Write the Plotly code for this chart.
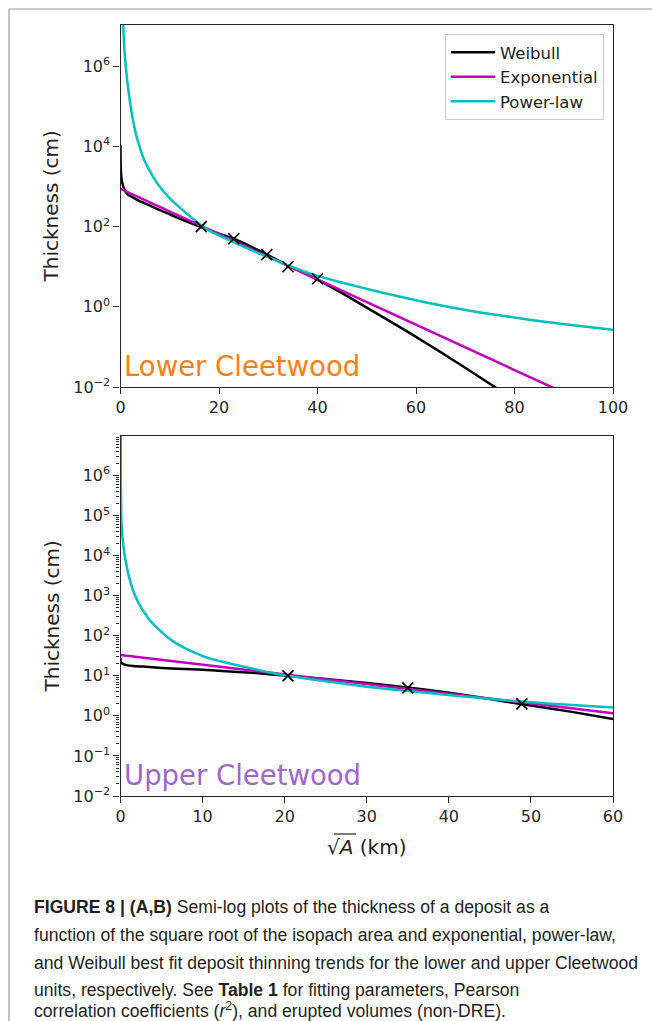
import plotly.graph_objects as go

W, H = 652, 1021

def px(x):
    return x / W

def py(y):
    return 1 - y / H

# ---------------- data ----------------
# (A) Lower Cleetwood
lower_obs_x = [16.4, 23.0, 29.7, 34.0, 40.0]
lower_obs_t = [100, 50, 20, 10, 5]

lower_weib_x = [0, 0.02, 0.1, 0.3, 0.8, 1.5, 2.5, 4, 5.9, 8, 10, 12, 14, 16.4, 19, 22.7, 26, 29.6,
                32, 34, 37, 40, 45, 50, 55, 60, 65, 70, 76, 78]
lower_weib_t = [10700, 5000, 2240, 1320, 832, 631, 537, 427, 339, 257, 204, 158, 126, 98, 74.1, 51.3,
                33.9, 20.4, 14.5, 10.7, 7.24, 4.79, 2.19, 0.955, 0.417, 0.178, 0.0741, 0.0302, 0.0100, 0.00692]

lower_exp_x = [0, 20, 40, 60, 80, 90]
lower_exp_t = [871, 64.6, 4.79, 0.355, 0.0263, 0.00724]

lower_pow_x = [0.45, 0.6, 0.8, 1.1, 1.5, 2.0, 2.5, 3.2, 3.85, 4.8, 5.9, 7.2, 8.6, 10.2, 12, 14, 16,
               18.5, 22.7, 27, 30, 34.3, 39, 44.5, 52.6, 62.8, 73, 83, 91, 100]
lower_pow_t = [2.0e7, 7.94e6, 2.51e6, 8.91e5, 3.16e5, 1.12e5, 4.79e4, 1.91e4, 1.0e4, 4680, 2510, 1350,
               794, 479, 302, 186, 117, 74.1, 42.7, 24.5, 17.4, 10.5, 6.46, 4.17, 2.34, 1.23, 0.724,
               0.479, 0.355, 0.269]

# (B) Upper Cleetwood
upper_obs_x = [20.4, 35.0, 48.9]
upper_obs_t = [10, 5, 2]

upper_weib_x = [0, 0.05, 0.5, 1.5, 2.7, 5, 8.8, 13.3, 16.5, 20.4, 25, 30, 35, 40, 45, 48.9, 55, 60]
upper_weib_t = [28.2, 21.9, 19.1, 17.6, 17.0, 15.8, 14.5, 12.9, 11.7, 10.0, 8.32, 6.61, 5.13, 3.80,
                2.63, 1.95, 1.26, 0.832]

upper_exp_x = [0, 20, 40, 60]
upper_exp_t = [33.1, 10.9, 3.57, 1.17]

upper_pow_x = [0.02, 0.04, 0.08, 0.15, 0.28, 0.45, 0.7, 1.0, 1.5, 2.0, 2.7, 3.6, 4.75, 5.7, 6.8, 8.5,
               10.9, 13.3, 15.7, 18, 20.4, 25.5, 30, 35, 40, 45.8, 52, 60]
upper_pow_t = [1.58e7, 1.0e6, 1.17e5, 5.01e4, 2.51e4, 1.20e4, 6310, 3160, 1410, 794, 437, 240, 138,
               93.3, 64.6, 42.7, 26.9, 20.4, 15.8, 12.3, 10.0, 7.08, 5.37, 4.17, 3.31, 2.57, 2.04, 1.62]

series_names = ["Weibull", "Exponential", "Power-law"]
series_colors = ["#000000", "#bf00bf", "#00bfbf"]

top_x_ticks = [0, 20, 40, 60, 80, 100]
top_y_ticks = [1e-2, 1e0, 1e2, 1e4, 1e6]
top_y_labels = ["10<sup>−2</sup>", "10<sup>0</sup>", "10<sup>2</sup>", "10<sup>4</sup>", "10<sup>6</sup>"]
bot_x_ticks = [0, 10, 20, 30, 40, 50, 60]
bot_y_ticks = [1e-2, 1e-1, 1e0, 1e1, 1e2, 1e3, 1e4, 1e5, 1e6]
bot_y_labels = ["10<sup>−2</sup>", "10<sup>−1</sup>", "10<sup>0</sup>", "10<sup>1</sup>", "10<sup>2</sup>",
                "10<sup>3</sup>", "10<sup>4</sup>", "10<sup>5</sup>", "10<sup>6</sup>"]

caption_lines = [
    "<b>FIGURE 8 | (A,B)</b> Semi-log plots of the thickness of a deposit as a",
    "function of the square root of the isopach area and exponential, power-law,",
    "and Weibull best fit deposit thinning trends for the lower and upper Cleetwood",
    "units, respectively. See <b>Table 1</b> for fitting parameters, Pearson",
    "correlation coefficients (<i>r</i><sup>2</sup>), and erupted volumes (non-DRE).",
]

# ---------------- figure ----------------
fig = go.Figure()
LW = 2.5

lower_curves = [(lower_weib_x, lower_weib_t), (lower_exp_x, lower_exp_t), (lower_pow_x, lower_pow_t)]
upper_curves = [(upper_weib_x, upper_weib_t), (upper_exp_x, upper_exp_t), (upper_pow_x, upper_pow_t)]
shapes_line = ["spline", "linear", "spline"]

for (cx, cy), name, col, shp in zip(lower_curves, series_names, series_colors, shapes_line):
    fig.add_trace(go.Scatter(x=cx, y=cy, mode="lines", name=name,
                             line=dict(color=col, width=LW, shape=shp, smoothing=0.5),
                             xaxis="x", yaxis="y", showlegend=True))
fig.add_trace(go.Scatter(x=lower_obs_x, y=lower_obs_t, mode="markers", showlegend=False,
                         marker=dict(symbol="x-thin", size=11, line=dict(color="black", width=1.6)),
                         xaxis="x", yaxis="y"))

for (cx, cy), name, col, shp in zip(upper_curves, series_names, series_colors, shapes_line):
    fig.add_trace(go.Scatter(x=cx, y=cy, mode="lines", name=name,
                             line=dict(color=col, width=LW, shape=shp, smoothing=0.5),
                             xaxis="x2", yaxis="y2", showlegend=False))
fig.add_trace(go.Scatter(x=upper_obs_x, y=upper_obs_t, mode="markers", showlegend=False,
                         marker=dict(symbol="x-thin", size=11, line=dict(color="black", width=1.6)),
                         xaxis="x2", yaxis="y2"))

AX = "#262626"
tickfont = dict(family="DejaVu Sans", size=16, color="#262626")
common = dict(showline=True, mirror=True, linecolor=AX, linewidth=1.3, ticks="outside", ticklen=6,
              tickwidth=1.2, tickcolor=AX, showgrid=False, zeroline=False, tickfont=tickfont,
              automargin=False)

xdom = [px(120.5), px(613)]

minor_vals = [m * 10.0 ** e for e in range(-2, 7) for m in range(2, 10)]

fig.update_layout(
    width=W, height=H, autosize=False,
    margin=dict(l=0, r=0, t=0, b=0, pad=0, autoexpand=False),
    paper_bgcolor="white", plot_bgcolor="white",
    xaxis=dict(domain=xdom, range=[0, 100], anchor="y", tickmode="array", tickvals=top_x_ticks, **common),
    yaxis=dict(domain=[py(387), py(25)], type="log", range=[-2, 7.03], anchor="x", tickmode="array",
               tickvals=top_y_ticks, ticktext=top_y_labels, **common),
    xaxis2=dict(domain=xdom, range=[0, 60], anchor="y2", tickmode="array", tickvals=bot_x_ticks, **common),
    yaxis2=dict(domain=[py(796), py(435.5)], type="log", range=[-2, 7.0], anchor="x2", tickmode="array",
                tickvals=bot_y_ticks, ticktext=bot_y_labels,
                minor=dict(ticks="outside", ticklen=3.5, tickwidth=0.9, tickcolor=AX, tickmode="array",
                           tickvals=minor_vals, showgrid=False),
                **common),
    legend=dict(x=px(604), xanchor="right", y=py(34), yanchor="top", bgcolor="white",
                bordercolor="#cccccc", borderwidth=1, itemwidth=44,
                font=dict(family="DejaVu Sans", size=16.5, color="#222")),
    showlegend=True,
)

annotations = [
    dict(text="Thickness (cm)", x=px(51), y=py(206.5), xref="paper", yref="paper", textangle=-90,
         showarrow=False, font=dict(family="DejaVu Sans", size=20, color="#222"),
         xanchor="center", yanchor="middle"),
    dict(text="Thickness (cm)", x=px(51), y=py(616.5), xref="paper", yref="paper", textangle=-90,
         showarrow=False, font=dict(family="DejaVu Sans", size=20, color="#222"),
         xanchor="center", yanchor="middle"),
    dict(text="√<i>A</i> (km)", x=px(366), y=py(847), xref="paper", yref="paper",
         showarrow=False, font=dict(family="DejaVu Sans", size=20, color="#222"),
         xanchor="center", yanchor="middle"),
    dict(text="Lower Cleetwood", x=px(121.5), y=py(366), xref="paper", yref="paper",
         showarrow=False, font=dict(family="DejaVu Sans", size=27.5, color="#ff7f0e"),
         xanchor="left", yanchor="middle"),
    dict(text="Upper Cleetwood", x=px(121.5), y=py(775), xref="paper", yref="paper",
         showarrow=False, font=dict(family="DejaVu Sans", size=27.5, color="#a066cc"),
         xanchor="left", yanchor="middle"),
]
cap_y = [907, 935, 963, 990, 1009.5]
for line, yy in zip(caption_lines, cap_y):
    annotations.append(dict(text=line, x=px(32), y=py(yy), xref="paper", yref="paper", showarrow=False,
                            xanchor="left", yanchor="middle", height=22, valign="middle",
                            font=dict(family="Liberation Sans", size=17.6, color="#231f20")))
fig.update_layout(annotations=annotations)

shapes = [
    dict(type="line", xref="paper", yref="paper", x0=px(9), x1=px(9), y0=0, y1=py(9),
         line=dict(color="#9a9a9a", width=1.2)),
    dict(type="line", xref="paper", yref="paper", x0=px(9), x1=1, y0=py(9), y1=py(9),
         line=dict(color="#9a9a9a", width=1.2)),
    # overline of the square root in the x label
    dict(type="line", xref="paper", yref="paper", x0=px(334), x1=px(356), y0=py(834), y1=py(834),
         line=dict(color="#222", width=1.2)),
]
fig.update_layout(shapes=shapes)

fig.write_html("out.html")
